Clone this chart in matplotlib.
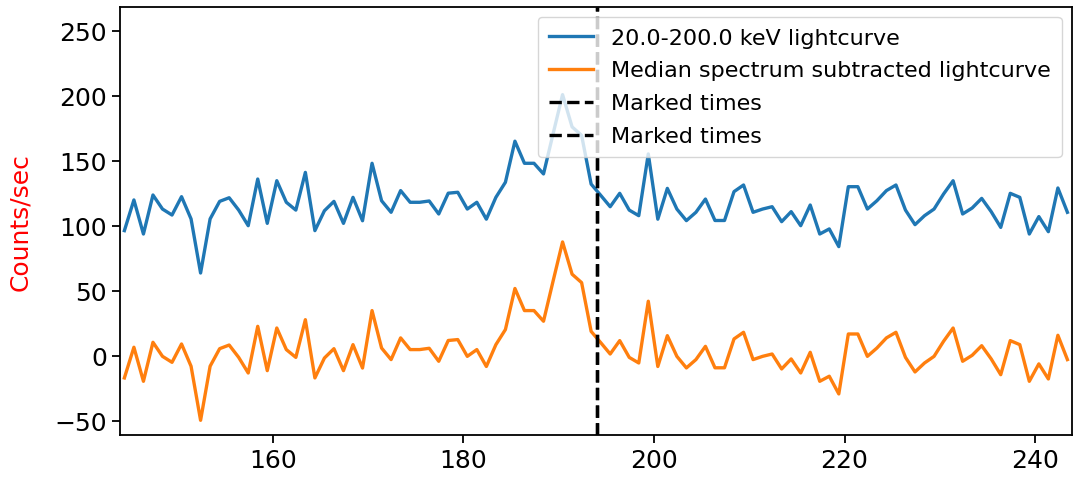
import numpy as np
import matplotlib
matplotlib.use("Agg")
import matplotlib.pyplot as plt

t_start = 144.4
lightcurve = [
    96.2, 119.8, 93.6, 123.6, 112.8, 108.2, 122.3, 105.2, 63.6, 105.2,
    118.7, 121.5, 112.0, 100.0, 135.9, 101.8, 134.6, 118.0, 112.0, 141.0,
    96.2, 111.5, 118.7, 101.8, 121.8, 103.8, 148.0, 119.2, 110.3, 127.0,
    118.0, 118.0, 119.0, 109.0, 125.0, 125.7, 112.8, 118.0, 105.0, 121.8,
    133.4, 165.0, 148.0, 148.0, 139.8, 170.5, 200.8, 176.0, 169.5, 132.0,
    123.4, 114.6, 124.9, 112.0, 107.7, 155.2, 105.0, 128.7, 112.8, 103.9,
    110.3, 120.5, 104.0, 104.0, 126.2, 131.3, 110.3, 112.8, 114.6, 103.1,
    110.8, 100.0, 115.9, 93.6, 97.5, 83.9, 130.0, 130.0, 112.8, 119.2,
    127.0, 131.3, 112.0, 100.8, 107.7, 112.8, 124.4, 134.6, 109.0, 113.6,
    121.0, 110.8, 98.7, 124.9, 121.8, 93.6, 107.0, 95.4, 129.0, 110.3,
]
subtracted = [
    -17.1, 6.5, -19.7, 10.3, -0.5, -5.1, 9.0, -8.1, -49.7, -8.1,
    5.4, 8.2, -1.3, -13.3, 22.6, -11.5, 21.3, 4.7, -1.3, 27.7,
    -17.1, -1.8, 5.4, -11.5, 8.5, -9.5, 34.7, 5.9, -3.0, 13.7,
    4.7, 4.7, 5.7, -4.3, 11.7, 12.4, -0.5, 4.7, -8.3, 8.5,
    20.1, 51.7, 34.7, 34.7, 26.5, 57.2, 87.5, 62.7, 56.2, 18.7,
    10.1, 1.3, 11.6, -1.3, -5.6, 41.9, -8.3, 15.4, -0.5, -9.4,
    -3.0, 7.2, -9.3, -9.3, 12.9, 18.0, -3.0, -0.5, 1.3, -10.2,
    -2.5, -13.3, 2.6, -19.7, -15.8, -29.4, 16.7, 16.7, -0.5, 5.9,
    13.7, 18.0, -1.3, -12.5, -5.6, -0.5, 11.1, 21.3, -4.3, 0.3,
    7.7, -2.5, -14.6, 11.6, 8.5, -19.7, -6.3, -17.9, 15.7, -3.0,
]
marked_times = [194.0, 194.0]
labels = ["20.0-200.0 keV lightcurve", "Median spectrum subtracted lightcurve", "Marked times"]

times = t_start + np.arange(len(lightcurve))

fig = plt.figure(figsize=(10.73, 4.81), dpi=100)
ax = fig.add_axes([120 / 1073, 1 - 436 / 481, (1071.7 - 120) / 1073, (436 - 7.5) / 481])

ax.plot(times, lightcurve, color="#1f77b4", lw=2.4, label=labels[0])
ax.plot(times, subtracted, color="#ff7f0e", lw=2.4, label=labels[1])
for mt in marked_times:
    ax.axvline(mt, color="black", ls="--", lw=2.4, label=labels[2])

ax.set_xlim(143.94, 243.85)
ax.set_ylim(-61.0, 268.6)
ax.set_ylabel("Counts/sec", color="red", fontsize=18, labelpad=16)
ax.tick_params(labelsize=18, length=6, width=1.3)
for s in ax.spines.values():
    s.set_linewidth(1.3)

ax.legend(loc="upper right", fontsize=16, framealpha=0.8, labelspacing=0.58,
          borderaxespad=0.45, borderpad=0.5)

fig.savefig("out.png", dpi=100)
